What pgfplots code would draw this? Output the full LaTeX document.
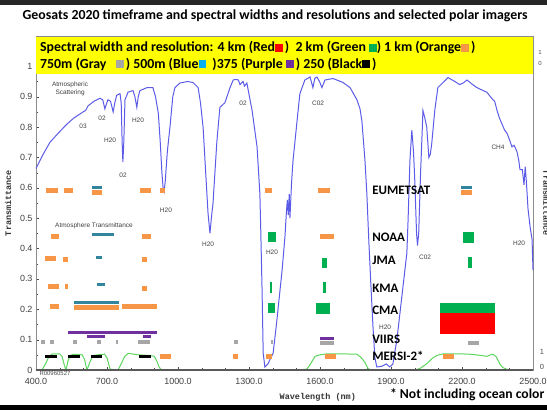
\documentclass[border=0pt]{standalone}
\usepackage{fontspec}
\setmainfont{Carlito}
\newfontfamily\arialf{Liberation Sans}
\newfontfamily\monof{Liberation Mono}
\usepackage{pgfplots}
\pgfplotsset{compat=1.18}
\definecolor{cOr}{HTML}{F79646}
\definecolor{cGr}{HTML}{00B050}
\definecolor{cBl}{HTML}{31859C}
\definecolor{cCy}{HTML}{00B0F0}
\definecolor{cPu}{HTML}{7030A0}
\definecolor{cGy}{HTML}{A6A6A6}
\definecolor{cCurve}{HTML}{5B5BE8}
\definecolor{cResp}{HTML}{5CD65C}
\definecolor{cYel}{HTML}{FFFF00}
\newcommand{\sq}[1]{\textcolor{#1}{\rule[0.02em]{0.55em}{0.55em}}}
\tikzset{
  ann/.style={font=\arialf\fontsize{6.5}{7.5}\selectfont, text=black!75, inner sep=0pt},
  agency/.style={font=\bfseries\fontsize{13}{14}\selectfont, anchor=west, inner sep=0pt},
}
\begin{document}
\begin{tikzpicture}
\path[use as bounding box] (-36bp,-40bp) rectangle (511bp,370bp);
\fill[black!85] (-36bp,365bp) rectangle (511bp,370bp);
\fill[black] (-36bp,-40bp) rectangle (511bp,-35bp);
\begin{axis}[
  scale only axis, width=497bp, height=334bp,
  xmin=400, xmax=2500, ymin=0, ymax=1.1,
  clip=false,
  axis line style={draw=black!45},
  xtick={400,700,1000,1300,1600,1900,2200,2500},
  ytick={0,0.1,0.2,0.3,0.4,0.5,0.6,0.7,0.8,0.9,1},
  minor x tick num=2, minor y tick num=1,
  xtick pos=left, ytick pos=left,
  tick align=inside,
  major tick length=3bp, minor tick length=2bp,
  tick style={black!70},
  xticklabel style={yshift=-5bp, /pgf/number format/.cd, fixed, fixed zerofill, precision=1, 1000 sep={}},
  yticklabel style={/pgf/number format/.cd, fixed, 1000 sep={}},
  /pgf/number format/assume math mode=true,
  tick label style={font=\arialf\fontsize{9}{10}\selectfont, text=black!75},
  xlabel={Wavelength (nm)},
  xlabel style={font=\monof\bfseries\fontsize{8.5}{10}\selectfont, text=black!80, at={(axis description cs:0.567,-0.081)}, anchor=center},
  ylabel={Transmittance},
  ylabel style={font=\monof\bfseries\fontsize{8.5}{10}\selectfont, text=black!80, at={(axis description cs:-0.056,0.5)}, anchor=center},
]
% yellow legend box
\fill[cYel] (axis cs:400,0.975) rectangle (axis cs:2500,1.1);
\draw[black!45] (axis cs:400,1.1) -- (axis cs:2500,1.1);

% atmospheric transmittance curve
\addplot[cCurve, line width=1pt, forget plot] coordinates {
(400,0.664)(430,0.71)(459,0.75)(500,0.785)(531,0.81)(560,0.83)(599,0.85)(610,0.855)(620,0.87)(645,0.885)(670,0.895)(682,0.89)(691,0.86)(697,0.875)(704,0.89)(715,0.885)(726,0.85)(733,0.88)(741,0.905)(755,0.91)(760,0.88)(764,0.75)(767,0.685)(771,0.75)(776,0.89)(789,0.915)(810,0.92)(818,0.9)(826,0.865)(832,0.9)(839,0.92)(869,0.93)(894,0.93)(905,0.9)(917,0.845)(925,0.75)(932,0.65)(938,0.59)(941,0.585)(946,0.62)(955,0.72)(966,0.80)(978,0.9)(987,0.93)(1008,0.945)(1040,0.95)(1063,0.947)(1085,0.93)(1095,0.88)(1106,0.80)(1117,0.65)(1127,0.515)(1135,0.45)(1141,0.5)(1148,0.55)(1156,0.65)(1164,0.75)(1177,0.865)(1198,0.88)(1220,0.93)(1233,0.955)(1245,0.957)(1255,0.955)(1262,0.94)(1268,0.945)(1275,0.95)(1281,0.935)(1291,0.945)(1313,0.855)(1334,0.735)(1346,0.58)(1350,0.45)(1355,0.27)(1360,0.055)(1367,0.01)(1380,0.02)(1392,0.04)(1402,0.055)(1418,0.165)(1440,0.33)(1452,0.44)(1458,0.52)(1462,0.56)(1466,0.51)(1470,0.58)(1473,0.50)(1480,0.62)(1486,0.69)(1503,0.82)(1515,0.91)(1536,0.955)(1558,0.965)(1570,0.93)(1578,0.96)(1587,0.965)(1598,0.95)(1608,0.93)(1621,0.955)(1655,0.96)(1697,0.947)(1727,0.93)(1756,0.89)(1769,0.86)(1777,0.82)(1790,0.69)(1798,0.58)(1806,0.43)(1815,0.28)(1824,0.14)(1832,0.04)(1840,0.01)(1860,0.012)(1880,0.02)(1895,0.01)(1908,0.02)(1925,0.10)(1950,0.27)(1967,0.385)(1972,0.49)(1980,0.69)(1988,0.79)(1995,0.72)(2000,0.635)(2008,0.45)(2012,0.41)(2017,0.45)(2025,0.65)(2030,0.75)(2035,0.855)(2043,0.83)(2051,0.80)(2060,0.70)(2066,0.71)(2072,0.745)(2085,0.855)(2098,0.93)(2120,0.947)(2141,0.963)(2170,0.95)(2190,0.94)(2205,0.945)(2221,0.955)(2245,0.94)(2263,0.93)(2290,0.92)(2305,0.915)(2320,0.90)(2331,0.89)(2338,0.885)(2348,0.855)(2358,0.83)(2369,0.81)(2380,0.79)(2390,0.78)(2400,0.76)(2411,0.735)(2420,0.74)(2432,0.72)(2440,0.69)(2445,0.66)(2455,0.66)(2462,0.61)(2467,0.67)(2472,0.62)(2479,0.53)(2488,0.47)(2496,0.43)(2500,0.33)
};

% spectral response functions (green)
\addplot[cResp, line width=1pt, forget plot] coordinates {
(425,0)(440,0.02)(455,0.045)(470,0.053)(500,0.053)(510,0.045)(520,0.015)(527,0)(535,0.03)(545,0.048)(560,0.052)(595,0.05)(605,0.035)(615,0)(625,0.02)(640,0.048)(660,0.05)(690,0.052)(700,0.04)(713,0.003)(746,0)(760,0.02)(775,0.045)(790,0.055)(830,0.05)(880,0.048)(900,0.045)(910,0.03)(920,0.01)(930,0)
};
\addplot[cResp, line width=1pt, forget plot] coordinates {
(1505,0)(1545,0.003)(1560,0.02)(1579,0.045)(1600,0.05)(1629,0.053)(1700,0.053)(1756,0.052)(1775,0.04)(1790,0.025)(1803,0.005)(1815,0)(2000,0)(2022,0.005)(2050,0.02)(2077,0.04)(2094,0.048)(2120,0.053)(2200,0.053)(2233,0.052)(2280,0.048)(2305,0.045)(2320,0.05)(2331,0.052)(2345,0.043)(2360,0.02)(2373,0.008)(2390,0.002)(2415,0)
};
\draw[black!65, line width=1.2pt] (axis cs:400,0) -- (axis cs:2500,0);

% orange 1 km bands
\addplot[cOr, line width=5bp, unbounded coords=jump, forget plot] coordinates {
(442,0.59)(493,0.59) (nan,nan) (518,0.59)(556,0.59) (nan,nan) (637,0.585)(679,0.585) (nan,nan) (840,0.59)(886,0.59) (nan,nan) (924,0.59)(945,0.59) (nan,nan) (1367,0.59)(1397,0.59) (nan,nan) (1591,0.59)(1642,0.59) (nan,nan) (2196,0.583)(2242,0.583) (nan,nan)
(463,0.44)(497,0.44) (nan,nan) (848,0.44)(886,0.44) (nan,nan) (1600,0.44)(1659,0.44) (nan,nan)
(438,0.367)(485,0.367) (nan,nan) (514,0.363)(535,0.363) (nan,nan) (848,0.363)(869,0.363) (nan,nan)
(451,0.275)(497,0.275) (nan,nan) (522,0.275)(535,0.275) (nan,nan) (848,0.27)(869,0.27) (nan,nan)
(459,0.21)(497,0.21) (nan,nan) (561,0.207)(751,0.207) (nan,nan) (763,0.21)(911,0.21) (nan,nan)
(924,0.043)(971,0.043) (nan,nan) (1232,0.046)(1254,0.046) (nan,nan) (1372,0.046)(1397,0.046) (nan,nan) (1621,0.046)(1668,0.046) (nan,nan) (2120,0.046)(2166,0.046)
};
% blue 500 m bands
\addplot[cBl, line width=3bp, unbounded coords=jump, forget plot] coordinates {
(637,0.6)(679,0.6) (nan,nan) (2196,0.6)(2242,0.6) (nan,nan) (637,0.445)(730,0.445) (nan,nan) (653,0.37)(679,0.37) (nan,nan) (658,0.28)(692,0.28) (nan,nan) (561,0.223)(751,0.223)
};
% purple 375 m bands
\addplot[cPu, line width=3bp, unbounded coords=jump, forget plot] coordinates {
(535,0.125)(911,0.125) (nan,nan) (615,0.11)(692,0.11) (nan,nan) (852,0.11)(886,0.11) (nan,nan) (1600,0.104)(1659,0.104)
};
% gray 750 m bands
\addplot[cGy, line width=4bp, unbounded coords=jump, forget plot] coordinates {
(421,0.092)(438,0.092) (nan,nan) (459,0.092)(476,0.092) (nan,nan) (556,0.092)(573,0.092) (nan,nan) (658,0.092)(675,0.092) (nan,nan) (738,0.092)(747,0.092) (nan,nan) (831,0.092)(882,0.092) (nan,nan) (1237,0.092)(1254,0.092) (nan,nan) (1393,0.092)(1401,0.092) (nan,nan) (1600,0.09)(1659,0.09) (nan,nan) (2225,0.09)(2272,0.09)
};
% black 250 m bands
\addplot[black, line width=3bp, unbounded coords=jump, forget plot] coordinates {
(438,0.043)(489,0.043) (nan,nan) (535,0.043)(586,0.043) (nan,nan) (632,0.043)(679,0.043) (nan,nan) (835,0.043)(886,0.043)
};
% green 2 km bands
\addplot[fill=cGr, draw=none, forget plot] coordinates {(1380,0.42)(1414,0.42)(1414,0.455)(1380,0.455)} --cycle;
\addplot[fill=cGr, draw=none, forget plot] coordinates {(2204,0.418)(2251,0.418)(2251,0.454)(2204,0.454)} --cycle;
\addplot[fill=cGr, draw=none, forget plot] coordinates {(1608,0.335)(1629,0.335)(1629,0.368)(1608,0.368)} --cycle;
\addplot[fill=cGr, draw=none, forget plot] coordinates {(2225,0.335)(2242,0.335)(2242,0.372)(2225,0.372)} --cycle;
\addplot[fill=cGr, draw=none, forget plot] coordinates {(1389,0.253)(1399,0.253)(1399,0.29)(1389,0.29)} --cycle;
\addplot[fill=cGr, draw=none, forget plot] coordinates {(1612,0.253)(1625,0.253)(1625,0.29)(1612,0.29)} --cycle;
\addplot[fill=cGr, draw=none, forget plot] coordinates {(1380,0.187)(1410,0.187)(1410,0.22)(1380,0.22)} --cycle;
\addplot[fill=cGr, draw=none, forget plot] coordinates {(1583,0.184)(1642,0.184)(1642,0.22)(1583,0.22)} --cycle;
\addplot[fill=cGr, draw=none, forget plot] coordinates {(2107,0.187)(2339,0.187)(2339,0.22)(2107,0.22)} --cycle;
% red 4 km band
\addplot[fill=red, draw=none, forget plot] coordinates {(2107,0.118)(2339,0.118)(2339,0.187)(2107,0.187)} --cycle;

% annotations
\node[ann, align=center] at (axis cs:544,0.926) {Atmospheric\\Scattering};
\node[ann] at (axis cs:599,0.803) {03};
\node[ann] at (axis cs:679,0.829) {02};
\node[ann] at (axis cs:713,0.757) {H20};
\node[ann] at (axis cs:831,0.822) {H20};
\node[ann] at (axis cs:768,0.641) {02};
\node[ann] at (axis cs:949,0.526) {H20};
\node[ann] at (axis cs:1127,0.414) {H20};
\node[ann] at (axis cs:1275,0.88) {02};
\node[ann] at (axis cs:1592,0.878) {C02};
\node[ann] at (axis cs:1397,0.388) {H20};
\node[ann] at (axis cs:1875,0.141) {H20};
\node[ann] at (axis cs:2044,0.372) {C02};
\node[ann] at (axis cs:2352,0.733) {CH4};
\node[ann] at (axis cs:2441,0.418) {H20};
\node[ann] at (axis cs:645,0.474) {Atmosphere Transmittance};
\node[ann, text=black!70, font=\arialf\fontsize{6}{7}\selectfont, anchor=west] at (axis cs:414,-0.011) {R00960527};

% agencies
\node[agency] at (axis cs:1820,0.592) {EUMETSAT};
\node[agency] at (axis cs:1820,0.4375) {NOAA};
\node[agency] at (axis cs:1820,0.362) {JMA};
\node[agency] at (axis cs:1820,0.27) {KMA};
\node[agency] at (axis cs:1820,0.197) {CMA};
\node[agency] at (axis cs:1820,0.102) {VIIRS};
\node[agency] at (axis cs:1820,0.046) {MERSI-2*};

% legend text in the yellow box
\node[anchor=west, inner sep=0pt, font=\bfseries\fontsize{13.9}{15}\selectfont] at (axis description cs:0.008,0.964) {Spectral width and resolution: 4 km (Red\sq{red}\,)\ \ 2 km (Green \sq{cGr}) 1 km (Orange\sq{cOr}\,)};
\node[anchor=west, inner sep=0pt, font=\bfseries\fontsize{13.9}{15}\selectfont] at (axis description cs:0.008,0.916) {750m (Gray\ \ \ \sq{cGy}\,) 500m (Blue\sq{cCy}\ \ )375 (Purple \sq{cPu}\,) 250 (Black\sq{black}\,)};

% title and footnote
\node[font=\bfseries\fontsize{13.9}{15}\selectfont, inner sep=0pt] at (axis description cs:0.481,1.06) {Geosats 2020 timeframe and spectral widths and resolutions and selected polar imagers};
\node[font=\bfseries\fontsize{13.7}{15}\selectfont, anchor=west, inner sep=0pt] at (axis description cs:0.712,-0.075) {* Not including ocean color};

% right-side remnants
\node[font=\arialf\fontsize{6}{7}\selectfont, text=black!70, inner sep=0pt] at (axis description cs:1.014,0.952) {1};
\node[font=\arialf\fontsize{6}{7}\selectfont, text=black!70, inner sep=0pt] at (axis description cs:1.014,0.919) {0};
\node[font=\arialf\fontsize{7.5}{8}\selectfont, text=black!70, inner sep=0pt] at (axis description cs:1.018,0.054) {1};
\node[font=\arialf\fontsize{7.5}{8}\selectfont, text=black!70, inner sep=0pt] at (axis description cs:1.018,0.009) {0};
\node[font=\monof\bfseries\fontsize{8.5}{10}\selectfont, text=black!80, rotate=-90, inner sep=0pt] at (axis description cs:1.027,0.5) {Transmittance};
\end{axis}
\end{tikzpicture}
\end{document}
